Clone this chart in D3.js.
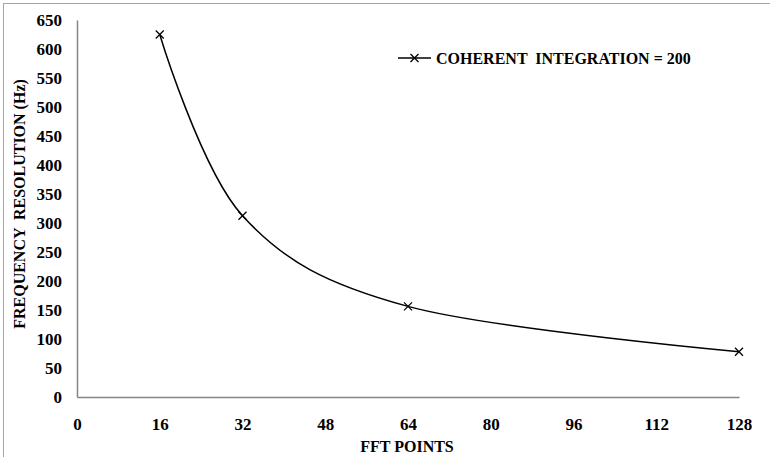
<!DOCTYPE html>
<html>
<head>
<meta charset="utf-8">
<script src="https://cdn.jsdelivr.net/npm/d3@7"></script>
<style>
  html, body { margin: 0; padding: 0; background: #fff; }
  svg { display: block; }
  text { font-family: "Liberation Serif", "Times New Roman", serif; font-weight: bold; fill: #000; white-space: pre; }
</style>
</head>
<body>
<svg id="chart" width="770" height="457"></svg>
<script>
// FFT size vs. frequency resolution for a coherent integration of 200
const fftPoints = [16, 32, 64, 128];
const resolutionHz = [625, 312.5, 156.25, 78.125];
const xTicks = [0, 16, 32, 48, 64, 80, 96, 112, 128];
const yTicks = [0, 50, 100, 150, 200, 250, 300, 350, 400, 450, 500, 550, 600, 650];
const seriesName = "COHERENT  INTEGRATION = 200";

const svg = d3.select("#chart");
const W = 770, H = 457;
const plot = { left: 77, right: 739, top: 20, bottom: 397 };

// outer chart frame (runs past the right and bottom edges)
svg.append("rect")
  .attr("x", 3.5).attr("y", 3.5)
  .attr("width", W + 10).attr("height", H + 10)
  .attr("fill", "none").attr("stroke", "#a6a6a6").attr("stroke-width", 1);

const x = d3.scaleLinear().domain([0, 128]).range([plot.left, plot.right]);
const y = d3.scaleLinear().domain([0, 650]).range([plot.bottom, plot.top]);

const tickFont = "17px";

// y axis
const yAxis = svg.append("g")
  .attr("transform", `translate(${plot.left},0)`)
  .call(d3.axisLeft(y).tickValues(yTicks).tickSize(0).tickPadding(15));
yAxis.select(".domain").attr("stroke", "#868686").attr("stroke-width", 1.5);
yAxis.selectAll("text").style("font-size", tickFont)
  .style("font-family", '"Liberation Serif", serif').style("font-weight", "bold");

// x axis
const xAxis = svg.append("g")
  .attr("transform", `translate(0,${plot.bottom})`)
  .call(d3.axisBottom(x).tickValues(xTicks).tickSize(0).tickPadding(21));
xAxis.select(".domain").attr("stroke", "#868686").attr("stroke-width", 1.5);
xAxis.selectAll("text").style("font-size", tickFont)
  .style("font-family", '"Liberation Serif", serif').style("font-weight", "bold");

// axis titles
svg.append("text")
  .attr("x", 407).attr("y", 452)
  .attr("text-anchor", "middle").style("font-size", "16px")
  .text("FFT POINTS");

svg.append("text")
  .attr("transform", `translate(25,204) rotate(-90)`)
  .attr("text-anchor", "middle").style("font-size", "16px")
  .text("FREQUENCY  RESOLUTION (Hz)");

// smoothed series line
const pts = fftPoints.map((d, i) => [d, resolutionHz[i]]);
const line = d3.line()
  .x(d => x(d[0])).y(d => y(d[1]))
  .curve(d3.curveCardinal.tension(0));
svg.append("path")
  .datum(pts)
  .attr("d", line)
  .attr("fill", "none").attr("stroke", "#000").attr("stroke-width", 1.5);

// x markers
const m = 4;
function cross(g, cx, cy) {
  g.append("path")
    .attr("d", `M${cx - m},${cy - m}L${cx + m},${cy + m}M${cx - m},${cy + m}L${cx + m},${cy - m}`)
    .attr("stroke", "#000").attr("stroke-width", 1.3).attr("fill", "none");
}
const markers = svg.append("g");
pts.forEach(d => cross(markers, x(d[0]), y(d[1])));

// legend
const lg = svg.append("g");
lg.append("line").attr("x1", 398).attr("x2", 431).attr("y1", 58).attr("y2", 58)
  .attr("stroke", "#000").attr("stroke-width", 1.5);
cross(lg, 414.5, 58);
lg.append("text").attr("x", 436).attr("y", 64).style("font-size", "16px").text(seriesName);
</script>
</body>
</html>
